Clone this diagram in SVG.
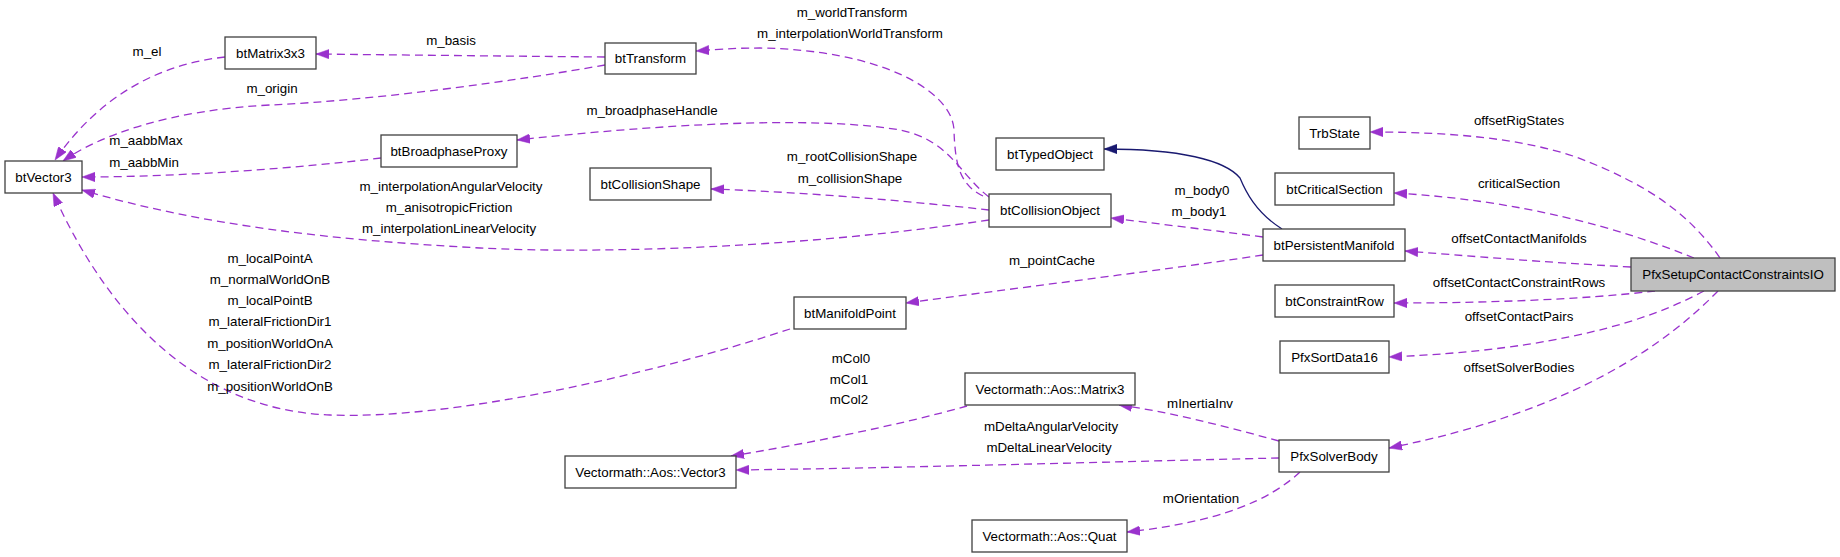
<svg xmlns="http://www.w3.org/2000/svg" width="1840" height="557" viewBox="0 0 1840 557">
<style>
  text { font-family: "Liberation Sans", Arial, sans-serif; font-size: 13.33px; fill: #000; text-anchor: middle; }
  .node rect { fill: #fff; stroke: #404040; stroke-width: 1.3; }
  .node.main rect { fill: #bfbfbf; }
  .use { fill: none; stroke: #9a32cd; stroke-width: 1.3; stroke-dasharray: 8,5; marker-end: url(#ap); }
  .inh { fill: none; stroke: #191970; stroke-width: 1.3; marker-end: url(#ab); }
</style>
<defs>
  <marker id="ap" markerUnits="userSpaceOnUse" markerWidth="14" markerHeight="10" refX="13" refY="4.7" orient="auto" viewBox="0 0 14 9.4">
    <path d="M0,0 L13,4.7 L0,9.4 z" fill="#9a32cd" stroke="#9a32cd" stroke-width="0.5"/>
  </marker>
  <marker id="ab" markerUnits="userSpaceOnUse" markerWidth="14" markerHeight="10" refX="13" refY="4.7" orient="auto" viewBox="0 0 14 9.4">
    <path d="M0,0 L13,4.7 L0,9.4 z" fill="#191970" stroke="#191970" stroke-width="0.5"/>
  </marker>
</defs>
<rect width="1840" height="557" fill="#fff"/>

<g id="connectors">
  <path class="use" d="M225,57 C160,64 100,95 55,160"/>
  <path class="use" d="M605,57 C500,56 400,55 316,54"/>
  <path class="use" d="M605,65 C520,80 380,100 270,105 C170,110 100,135 63,161"/>
  <path class="use" d="M381,158 C300,168 180,177 82,177"/>
  <path class="use" d="M989,220 C800,248 600,254 480,248 C330,240 200,225 82,190"/>
  <path class="use" d="M983,196 C960,185 955,165 954,130 C952,90 880,50 760,48 C730,48 710,50 696,51"/>
  <path class="use" d="M989,197 C960,175 950,140 900,130 C830,118 700,120 517,140"/>
  <path class="use" d="M989,210 C900,200 800,192 711,189"/>
  <path class="inh" d="M1282,229 C1255,212 1245,190 1240,178 C1225,160 1180,149 1104,149"/>
  <path class="use" d="M1263,237 C1210,230 1160,224 1111,218"/>
  <path class="use" d="M1263,255 C1150,272 1000,290 906,303"/>
  <path class="use" d="M790,329 C650,375 450,420 330,415 C200,410 110,320 53,193"/>
  <path class="use" d="M967,406 C900,425 800,445 731,456"/>
  <path class="use" d="M1279,441 C1220,425 1170,412 1119,405"/>
  <path class="use" d="M1279,458 C1100,462 900,468 736,470"/>
  <path class="use" d="M1300,472 C1270,500 1220,522 1127,532"/>
  <path class="use" d="M1720,258 C1690,215 1650,185 1576,157 C1520,138 1450,132 1370,132"/>
  <path class="use" d="M1694,258 C1620,228 1520,200 1394,193"/>
  <path class="use" d="M1631,267 C1540,262 1470,256 1405,251"/>
  <path class="use" d="M1655,291 C1580,300 1480,303 1394,303"/>
  <path class="use" d="M1704,291 C1650,320 1560,350 1389,357"/>
  <path class="use" d="M1718,291 C1670,340 1580,410 1389,448"/>

  <text x="147" y="56">m_el</text>
  <text x="451" y="45">m_basis</text>
  <text x="272" y="93">m_origin</text>
  <text x="146" y="145">m_aabbMax</text>
  <text x="144" y="167">m_aabbMin</text>
  <text x="451" y="191">m_interpolationAngularVelocity</text>
  <text x="449" y="212">m_anisotropicFriction</text>
  <text x="449" y="233">m_interpolationLinearVelocity</text>
  <text x="852" y="17">m_worldTransform</text>
  <text x="850" y="38">m_interpolationWorldTransform</text>
  <text x="652" y="115">m_broadphaseHandle</text>
  <text x="852" y="161">m_rootCollisionShape</text>
  <text x="850" y="183">m_collisionShape</text>
  <text x="1202" y="195">m_body0</text>
  <text x="1199" y="216">m_body1</text>
  <text x="1052" y="265">m_pointCache</text>
  <text x="270" y="263">m_localPointA</text>
  <text x="270" y="284">m_normalWorldOnB</text>
  <text x="270" y="305">m_localPointB</text>
  <text x="270" y="326">m_lateralFrictionDir1</text>
  <text x="270" y="348">m_positionWorldOnA</text>
  <text x="270" y="369">m_lateralFrictionDir2</text>
  <text x="270" y="391">m_positionWorldOnB</text>
  <text x="851" y="363">mCol0</text>
  <text x="849" y="384">mCol1</text>
  <text x="849" y="404">mCol2</text>
  <text x="1200" y="408">mInertiaInv</text>
  <text x="1051" y="431">mDeltaAngularVelocity</text>
  <text x="1049" y="452">mDeltaLinearVelocity</text>
  <text x="1201" y="503">mOrientation</text>
  <text x="1519" y="125">offsetRigStates</text>
  <text x="1519" y="188">criticalSection</text>
  <text x="1519" y="243">offsetContactManifolds</text>
  <text x="1519" y="287">offsetContactConstraintRows</text>
  <text x="1519" y="321">offsetContactPairs</text>
  <text x="1519" y="372">offsetSolverBodies</text>
</g>

<g id="PfxSetupContactConstraintsIO" class="node main"><rect x="1631" y="258" width="204" height="33"/><text x="1733" y="279">PfxSetupContactConstraintsIO</text></g>
<g id="TrbState" class="node"><rect x="1299" y="117" width="71" height="32"/><text x="1334.5" y="137.5">TrbState</text></g>
<g id="btCriticalSection" class="node"><rect x="1275" y="173" width="119" height="32"/><text x="1334.5" y="193.5">btCriticalSection</text></g>
<g id="btPersistentManifold" class="node"><rect x="1263" y="229" width="142" height="32"/><text x="1334" y="249.5">btPersistentManifold</text></g>
<g id="btConstraintRow" class="node"><rect x="1275" y="285" width="119" height="32"/><text x="1334.5" y="305.5">btConstraintRow</text></g>
<g id="PfxSortData16" class="node"><rect x="1280" y="341" width="109" height="32"/><text x="1334.5" y="361.5">PfxSortData16</text></g>
<g id="PfxSolverBody" class="node"><rect x="1279" y="440" width="110" height="32"/><text x="1334" y="460.5">PfxSolverBody</text></g>
<g id="btTypedObject" class="node"><rect x="996" y="138" width="108" height="32"/><text x="1050" y="158.5">btTypedObject</text></g>
<g id="btCollisionObject" class="node"><rect x="989" y="194" width="122" height="33"/><text x="1050" y="215">btCollisionObject</text></g>
<g id="btManifoldPoint" class="node"><rect x="794" y="297" width="112" height="32"/><text x="850" y="317.5">btManifoldPoint</text></g>
<g id="VectormathAosMatrix3" class="node"><rect x="965" y="373" width="170" height="32"/><text x="1050" y="393.5">Vectormath::Aos::Matrix3</text></g>
<g id="VectormathAosVector3" class="node"><rect x="565" y="456" width="171" height="32"/><text x="650.5" y="476.5">Vectormath::Aos::Vector3</text></g>
<g id="VectormathAosQuat" class="node"><rect x="972" y="520" width="155" height="32"/><text x="1049.5" y="540.5">Vectormath::Aos::Quat</text></g>
<g id="btTransform" class="node"><rect x="605" y="43" width="91" height="31"/><text x="650.5" y="63">btTransform</text></g>
<g id="btMatrix3x3" class="node"><rect x="225" y="37" width="91" height="32"/><text x="270.5" y="57.5">btMatrix3x3</text></g>
<g id="btBroadphaseProxy" class="node"><rect x="381" y="135" width="136" height="32"/><text x="449" y="155.5">btBroadphaseProxy</text></g>
<g id="btCollisionShape" class="node"><rect x="590" y="168" width="121" height="32"/><text x="650.5" y="188.5">btCollisionShape</text></g>
<g id="btVector3" class="node"><rect x="5" y="161" width="77" height="32"/><text x="43.5" y="181.5">btVector3</text></g>
</svg>
